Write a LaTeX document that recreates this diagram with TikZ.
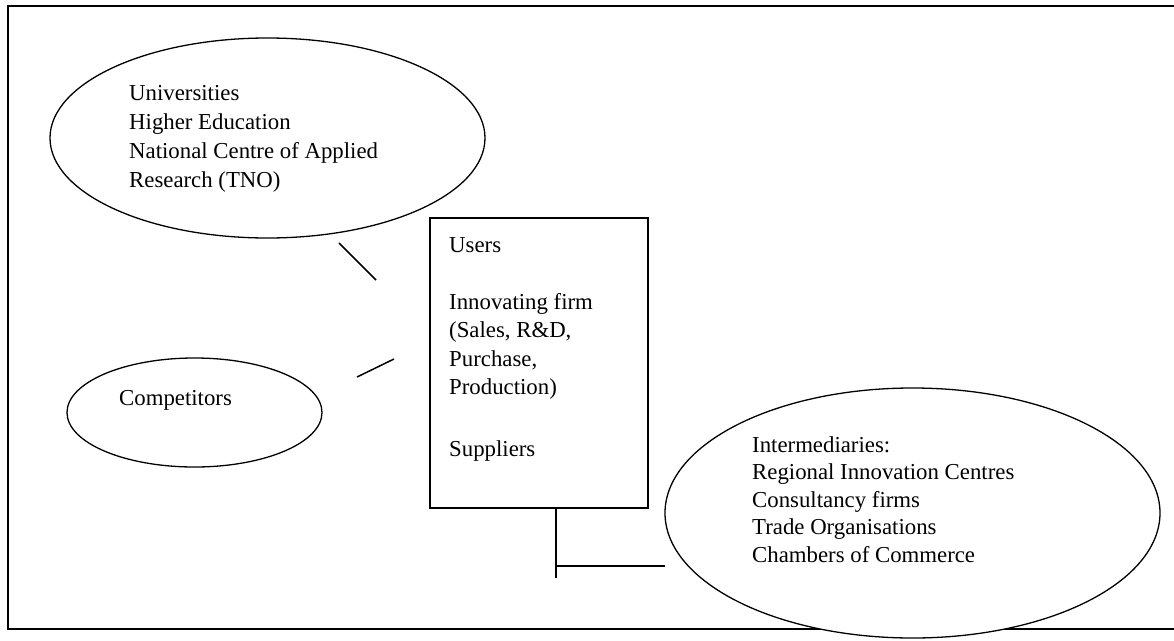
\documentclass[tikz,border=0pt]{standalone}
\usepackage{fontspec}
\setmainfont{Liberation Serif}
\usetikzlibrary{shapes.geometric}
\begin{document}
\begin{tikzpicture}[x=1pt,y=-1pt,
  actor/.style={ellipse, draw, line width=1.3pt, fill=white, inner sep=0pt},
  firmbox/.style={rectangle, draw, line width=1.5pt, inner sep=0pt},
  txt/.style={anchor=base west, inner sep=0pt},
  link/.style={line width=1.5pt}]
\useasboundingbox (0,0) rectangle (1174,640);
\fill[white] (0,0) rectangle (1174,640);

% outer frame (open to the right)
\draw[line width=2pt] (1180,6) -- (8,6) -- (8,629) -- (1180,629);

% actors
\node[actor, minimum width=435pt, minimum height=200pt] (uni) at (267.5,138) {};
\node[txt, font=\fontsize{22.8}{29.3}\selectfont] (unitext) at (129,100)
  {\begin{tabular}[t]{@{}l@{}}Universities\\Higher Education\\National Centre of Applied\\Research (TNO)\end{tabular}};

\node[actor, minimum width=255pt, minimum height=109pt] (comp) at (194.5,412.5) {};
\node[txt, font=\fontsize{22.8}{28}\selectfont] (comptext) at (119,405) {Competitors};

\node[firmbox, minimum width=218pt, minimum height=290pt, anchor=north west] (firm) at (429,217) {};
\node[txt, font=\fontsize{22.8}{28.5}\selectfont] (firmtext) at (449,252)
  {\begin{tabular}[t]{@{}l@{}}Users\\ \\Innovating firm\\(Sales, R\&D,\\Purchase,\\Production)\\[5pt] \\Suppliers\end{tabular}};

\node[actor, minimum width=495pt, minimum height=250pt] (inter) at (912.5,513) {};
\node[txt, font=\fontsize{22.8}{27.5}\selectfont] (intertext) at (752,452)
  {\begin{tabular}[t]{@{}l@{}}Intermediaries:\\Regional Innovation Centres\\Consultancy firms\\Trade Organisations\\Chambers of Commerce\end{tabular}};

% connectors
\coordinate (a1) at (339,243);
\coordinate (a2) at (376,280);
\coordinate (b1) at (357,377);
\coordinate (b2) at (394,359);
\coordinate (c1) at (556,507);
\coordinate (c2) at (556,578);
\coordinate (d1) at (556,566);
\coordinate (d2) at (665,566);
\draw[link] (a1) -- (a2);
\draw[link] (b1) -- (b2);
\draw[link] (c1) -- (c2);
\draw[link] (d1) -- (d2);
\end{tikzpicture}
\end{document}
